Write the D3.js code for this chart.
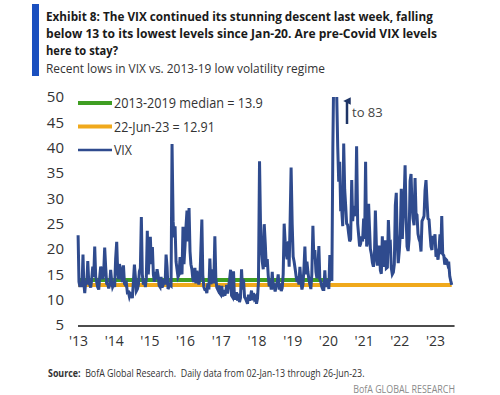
<!DOCTYPE html>
<html>
<head>
<meta charset="utf-8">
<script src="https://cdn.jsdelivr.net/npm/d3@7"></script>
<style>
  body { margin: 0; background: #fff; }
  text { font-family: "Open Sans", "Liberation Sans", sans-serif; }
</style>
</head>
<body>
<div class="chart"></div>
<script>
// VIX, three readings per month (1st, 11th, 21st)
let vix2013 = [22.7,13.5,12.5, 13.5,12.5,18.9, 13.5,11.3,13.7, 13.0,17.6,13.5, 13.0,12.4,14.0, 16.5,14.5,20.5,
               14.5,13.5,12.5, 12.0,14.5,16.5, 16.0,14.0,15.5, 20.3,16.5,13.2, 13.0,12.2,13.0, 15.9,13.8,12.5];
let vix2014 = [13.0,12.5,18.1, 21.4,15.5,14.0, 17.0,16.2,14.5, 13.5,16.8,13.2, 12.9,13.2,11.4, 11.5,10.6,11.2,
               11.0,10.3,13.3, 16.9,14.5,11.7, 12.1,13.0,15.6, 16.2,26.3,15.0, 13.0,13.8,12.5, 14.3,23.6,15.0];
let vix2015 = [19.2,22.4,17.0, 20.4,15.0,13.5, 15.5,14.0,16.0, 14.7,12.8,12.5, 14.5,12.4,12.9, 14.0,13.0,18.9,
               16.5,12.1,12.5, 13.0,12.8,40.7, 25.5,22.3,24.5, 17.5,16.0,14.5, 15.0,18.4,15.5, 15.0,24.4,17.0];
let vix2016 = [20.7,24.5,27.6, 21.5,28.1,19.5, 17.0,16.0,14.0, 13.5,16.3,13.2, 15.7,14.5,13.0, 14.0,20.0,25.8,
               14.8,12.5,12.0, 12.0,11.3,13.2, 12.0,18.1,13.1, 13.5,16.0,13.2, 22.5,14.2,12.4, 12.0,12.8,11.3];
let vix2017 = [11.0,12.7,10.6, 11.9,10.8,11.5, 12.9,11.2,12.5, 14.0,15.9,10.8, 10.5,15.6,10.0, 10.7,11.5,9.8,
               11.2,9.5,10.3, 16.0,12.0,14.0, 10.5,10.2,9.7, 9.2,11.0,9.8, 10.5,11.8,9.9, 11.3,10.2,10.5];
let vix2018 = [9.2,10.2,13.5, 37.3,25.0,19.5, 17.5,16.0,24.9, 21.0,16.5,18.0, 14.8,12.6,13.5, 12.0,15.5,12.0,
               12.5,11.6,12.8, 13.5,15.0,12.0, 13.2,11.7,12.3, 15.0,25.0,21.5, 19.0,18.0,21.5, 16.5,25.6,36.1];
let vix2019 = [25.0,18.5,17.5, 16.0,14.5,13.5, 14.5,13.0,16.5, 13.5,12.0,13.0, 16.0,20.5,15.0, 17.5,15.5,14.0,
               13.0,12.1,15.0, 24.6,18.0,19.8, 15.5,14.2,16.0, 20.6,14.0,13.5, 12.5,12.0,12.0, 15.8,12.5,13.5];
let vix2020 = [14.0,12.1,18.8, 15.5,13.7,40.1, 54.5,82.7,61.0, 50.0,40.1,33.3, 37.2,27.9,28.0, 24.5,40.8,31.8,
               28.6,25.0,24.8, 23.0,21.5,22.0, 33.6,25.5,28.5, 27.0,26.5,40.3, 25.0,22.7,20.5, 21.0,22.5,21.5];
let vix2021 = [26.0,22.0,37.2, 20.5,21.5,28.9, 24.7,20.0,19.0, 17.3,16.5,18.0, 27.6,21.0,17.0, 17.0,20.7,15.8,
               15.1,22.5,17.5, 16.5,21.7,16.2, 16.4,25.7,21.0, 21.2,16.3,15.0, 15.4,17.0,28.6, 31.1,21.0,17.2];
let vix2022 = [19.7,23.0,31.9, 22.0,27.4,31.0, 36.5,26.7,20.5, 19.6,22.0,33.4, 34.8,28.5,26.0, 24.7,34.0,27.0,
               26.7,23.0,22.0, 21.4,19.5,25.5, 26.0,26.5,31.6, 33.6,29.5,26.0, 25.8,23.0,20.5, 19.8,22.6,21.5];
let vix2023 = [22.9,18.5,19.0, 17.9,20.0,22.9, 19.0,26.5,19.0, 18.7,16.9,18.0, 17.8,17.0,17.5, 14.6,13.7,12.9];

let vixYears = [2013, 2014, 2015, 2016, 2017, 2018, 2019, 2020, 2021, 2022, 2023];
let vixByYear = [vix2013, vix2014, vix2015, vix2016, vix2017, vix2018, vix2019, vix2020, vix2021, vix2022, vix2023];

let medianValue = 13.9;      // 2013-2019 median
let latestValue = 12.91;     // 22-Jun-23
let yTicks = [5, 10, 15, 20, 25, 30, 35, 40, 45, 50];
let xTickYears = [2013, 2014, 2015, 2016, 2017, 2018, 2019, 2020, 2021, 2022, 2023];

let legendLabels = ["2013-2019 median = 13.9", "22-Jun-23 = 12.91", "VIX"];

let svgWidth = 500;
let svgHeight = 395;

let vixData = [];
vixYears.forEach(function(yr, k) {
  vixByYear[k].forEach(function(v, i) {
    vixData.push({ date: new Date(yr, Math.floor(i / 3), 1 + (i % 3) * 10), value: v });
  });
});
vixData[0].date = new Date(2013, 0, 2);

let svg = d3.select(".chart")
  .append("svg")
  .attr("width", svgWidth)
  .attr("height", svgHeight);

// squeeze a text horizontally so it spans the given width (the source uses a narrow font)
function narrowText(str, x, y, width, size, weight, color, anchor) {
  let t = svg.append("text")
    .attr("x", 0).attr("y", 0)
    .attr("text-anchor", anchor || "start")
    .style("font-size", size + "px")
    .style("font-weight", weight)
    .style("fill", color)
    .text(str);
  let w = t.node().getComputedTextLength();
  t.attr("transform", `translate(${x},${y}) scale(${width / w},1)`);
  return t;
}

// title block
svg.append("rect").attr("x", 32).attr("y", 4).attr("width", 7).attr("height", 72).attr("fill", "#1a4fbf");

narrowText("Exhibit 8: The VIX continued its stunning descent last week, falling", 46, 21, 387, 12.4, "bold", "#1a1a1a");
narrowText("below 13 to its lowest levels since Jan-20.  Are pre-Covid VIX levels", 46, 38, 391, 12.4, "bold", "#1a1a1a");
narrowText("here to stay?", 46, 55, 72, 12.4, "bold", "#1a1a1a");
narrowText("Recent lows in VIX vs. 2013-19 low volatility regime", 46, 73, 279, 12.6, "normal", "#333");

// scales
let x = d3.scaleTime()
  .domain([new Date(2013, 0, 1), new Date(2023, 0, 1)])
  .range([78, 435]);

let y = d3.scaleLinear()
  .domain([5, 50])
  .range([325, 97]);

// y axis labels
let leftAxis = d3.axisLeft(y).tickValues(yTicks).tickSize(0).tickPadding(0);
let yAxisG = svg.append("g")
  .attr("transform", "translate(64,0)")
  .call(leftAxis);
yAxisG.select(".domain").remove();
yAxisG.selectAll("text")
  .style("font-size", "15px").style("fill", "#333")
  .style("font-family", "\"Open Sans\", sans-serif");

// x axis labels
let bottomAxis = d3.axisBottom(x)
  .tickValues(xTickYears.map(function(yr) { return new Date(yr, 0, 1); }))
  .tickFormat(function(d) { return "'" + String(d.getFullYear()).slice(2); })
  .tickSize(0).tickPadding(0);
let xAxisG = svg.append("g")
  .attr("transform", "translate(0,336)")
  .call(bottomAxis);
xAxisG.select(".domain").remove();
xAxisG.selectAll("text")
  .style("font-size", "14px").style("fill", "#333")
  .style("font-family", "\"Open Sans\", sans-serif");

// baseline at 5
svg.append("line")
  .attr("x1", x(new Date(2013, 0, 1))).attr("x2", x(new Date(2023, 6, 20)))
  .attr("y1", y(5) + 1).attr("y2", y(5) + 1)
  .attr("stroke", "#111").attr("stroke-width", 1.5);

// reference lines
svg.append("line")
  .attr("x1", x(new Date(2013, 0, 2))).attr("x2", x(new Date(2020, 1, 1)))
  .attr("y1", y(medianValue)).attr("y2", y(medianValue))
  .attr("stroke", "#3f9e22").attr("stroke-width", 4);

svg.append("line")
  .attr("x1", x(new Date(2013, 0, 2))).attr("x2", x(new Date(2023, 5, 21)))
  .attr("y1", y(latestValue)).attr("y2", y(latestValue))
  .attr("stroke", "#f0a91c").attr("stroke-width", 4);

// VIX line, clipped at 50
svg.append("clipPath").attr("id", "plotClip")
  .append("rect").attr("x", 70).attr("y", y(50)).attr("width", 400).attr("height", 240);

let vixLine = d3.line()
  .x(d => x(d.date))
  .y(d => y(d.value));

svg.append("path")
  .datum(vixData)
  .attr("clip-path", "url(#plotClip)")
  .attr("d", vixLine)
  .attr("fill", "none")
  .attr("stroke", "#2f4b8e")
  .attr("stroke-width", 3)
  .attr("stroke-linejoin", "miter");

// "to 83" annotation
svg.append("defs").append("marker")
  .attr("id", "arrowHead").attr("viewBox", "0 0 10 10")
  .attr("refX", 5).attr("refY", 5)
  .attr("markerWidth", 3).attr("markerHeight", 3)
  .attr("orient", "auto")
  .append("path").attr("d", "M0,10 L5,0 L10,10 Z").attr("fill", "#1f3566");

svg.append("line")
  .attr("x1", 347).attr("x2", 347)
  .attr("y1", 124).attr("y2", 101)
  .attr("stroke", "#1f3566").attr("stroke-width", 2.5)
  .attr("marker-end", "url(#arrowHead)");

svg.append("text")
  .attr("x", 352).attr("y", 117)
  .style("font-size", "13px").style("fill", "#444")
  .text("to 83");

// legend
let legendColors = ["#3f9e22", "#f0a91c", "#2f4b8e"];
let legendWidths = [4, 4, 2.6];
let legendTextLen = [149, 101, 18];
legendLabels.forEach(function(lab, i) {
  let ly = 103 + i * 23.5;
  svg.append("line")
    .attr("x1", 78).attr("x2", 112)
    .attr("y1", ly).attr("y2", ly)
    .attr("stroke", legendColors[i]).attr("stroke-width", legendWidths[i]);
  narrowText(lab, 114, ly + 5, legendTextLen[i], 14.5, "normal", "#333");
});

// source
let src = svg.append("text")
  .attr("x", 0).attr("y", 0)
  .style("font-size", "10px").style("fill", "#333");
src.append("tspan").style("font-weight", "bold").text("Source:");
src.append("tspan").attr("xml:space", "preserve").text("  BofA Global Research.  Daily data from 02-Jan-13 through 26-Jun-23.");
let srcW = src.node().getComputedTextLength();
src.attr("transform", `translate(48,377) scale(${317 / srcW},1)`);

narrowText("BofA GLOBAL RESEARCH", 455, 393, 102, 10, "normal", "#8a8a8a", "end");
</script>
</body>
</html>
